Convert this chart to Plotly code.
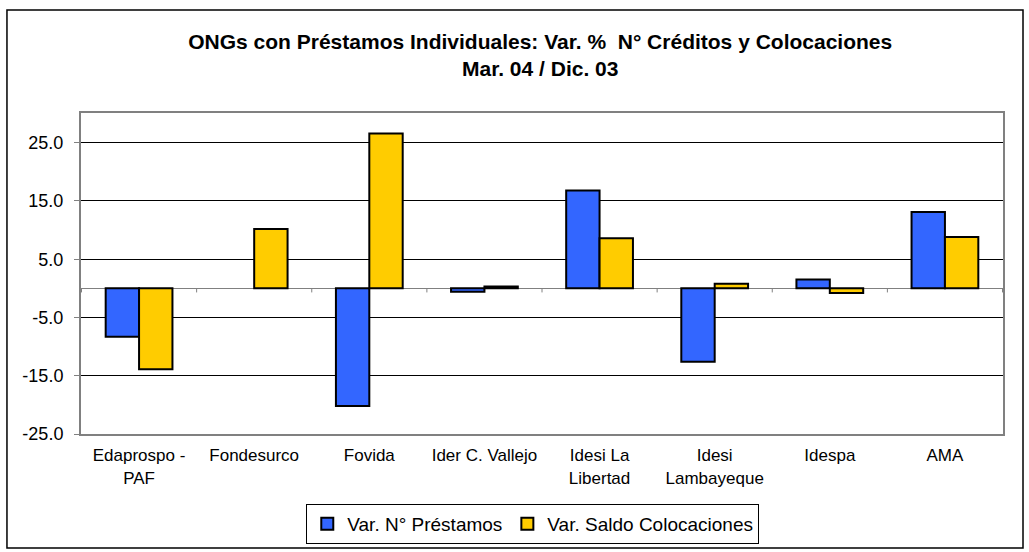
import plotly.graph_objects as go

# ONGs - variacion % Mar.04 / Dic.03
categorias = ["Edaprospo -<br>PAF", "Fondesurco", "Fovida", "Ider C. Vallejo",
              "Idesi La<br>Libertad", "Idesi<br>Lambayeque", "Idespa", "AMA"]
var_prestamos = [-8.3, 0.0, -20.2, -0.6, 16.8, -12.6, 1.5, 13.1]
var_saldo = [-13.9, 10.2, 26.6, 0.3, 8.6, 0.8, -0.8, 8.8]
y_ticks = [-25, -15, -5, 5, 15, 25]
y_labels = ["-25.0", "-15.0", "-5.0", "5.0", "15.0", "25.0"]

font_base = "Arial, Liberation Sans, sans-serif"


def bordes(valores):
    # excel no dibuja barras de valor cero
    return [0 if v == 0 else 2 for v in valores]


fig = go.Figure()
fig.add_trace(go.Bar(x=categorias, y=var_prestamos, name="Var. N° Préstamos",
                     marker=dict(color="#3366FF",
                                 line=dict(color="black", width=bordes(var_prestamos)))))
fig.add_trace(go.Bar(x=categorias, y=var_saldo, name="Var. Saldo Colocaciones",
                     marker=dict(color="#FFCC00",
                                 line=dict(color="black", width=bordes(var_saldo)))))

# small tick marks on the zero line between categories
for i in range(len(categorias) + 1):
    fig.add_shape(type="line", xref="x", yref="y", x0=i - 0.5, x1=i - 0.5,
                  y0=0, y1=-0.7, line=dict(color="#808080", width=1))

# outer frame of the chart
fig.add_shape(type="rect", xref="paper", yref="paper", x0=-0.0803, x1=1.0217,
              y0=-0.355, y1=1.3209, line=dict(color="black", width=1.5))

fig.update_layout(
    width=1029, height=552,
    margin=dict(l=81, r=26, t=113, b=118, autoexpand=False),
    paper_bgcolor="white", plot_bgcolor="white",
    font=dict(family=font_base, size=17, color="black"),
    title=dict(text="<b>ONGs con Préstamos Individuales: Var. %  N° Créditos y Colocaciones<br>Mar. 04 / Dic. 03</b>",
               x=0.525, xanchor="center", y=0.911, yanchor="middle",
               font=dict(size=21)),
    barmode="group", bargap=0.42, bargroupgap=0,
    showlegend=True,
    legend=dict(orientation="h", x=0.49, xanchor="center", y=-0.218, yanchor="top",
                bordercolor="black", borderwidth=1, font=dict(size=19),
                itemsizing="constant", tracegroupgap=0),
    xaxis=dict(showgrid=False, showline=True, linecolor="#808080", linewidth=2,
               mirror=True, ticks="", tickfont=dict(size=17), automargin=False,
               ticklabelstandoff=5),
    yaxis=dict(range=[-25, 30.1], tickvals=y_ticks, ticktext=y_labels,
               showgrid=True, gridcolor="black", gridwidth=1,
               zeroline=True, zerolinecolor="#808080", zerolinewidth=1,
               showline=True, linecolor="#808080", linewidth=2, mirror=True,
               ticks="outside", ticklen=5, tickcolor="#808080",
               tickfont=dict(size=18), automargin=False, ticklabelstandoff=7),
)

fig.write_html("out.html", config={"displayModeBar": False},
               post_script="document.body.style.margin='0';")
